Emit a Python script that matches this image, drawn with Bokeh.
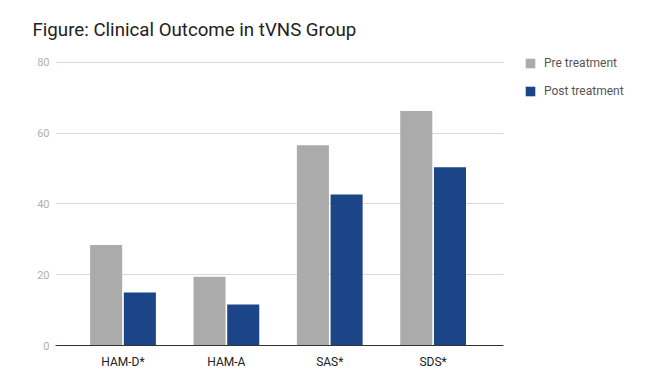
from bokeh.plotting import figure
from bokeh.models import (ColumnDataSource, Range1d, FixedTicker, Legend, LegendItem, Title,
                          BoxAnnotation)
from bokeh.transform import dodge
from bokeh.embed import file_html
from bokeh.resources import INLINE

categories = ["HAM-D*", "HAM-A", "SAS*", "SDS*"]
pre_treatment = [28.4, 19.4, 56.6, 66.3]
post_treatment = [15.0, 11.6, 42.7, 50.4]
y_ticks = [0, 20, 40, 60, 80]

X_LO, X_HI = -0.653, 3.68   # plotted category area

src = ColumnDataSource(dict(x=list(range(len(categories))), pre=pre_treatment, post=post_treatment))

p = figure(width=648, height=377, output_backend="svg", toolbar_location=None,
           x_range=Range1d(X_LO, 5.006), y_range=Range1d(0, 83.39),
           min_border_left=55, min_border_right=8, min_border_top=50, min_border_bottom=32)
p.title = None
t = Title(text="Figure: Clinical Outcome in tVNS Group", text_font="Roboto",
          text_font_size="18.7px", text_font_style="normal", text_color="#222222",
          align="left", offset=-23, standoff=20)
p.add_layout(t, "above")

r1 = p.vbar(x=dodge("x", -0.163, range=p.x_range), top="pre", width=0.31, source=src,
            fill_color="#ababab", line_color=None)
r2 = p.vbar(x=dodge("x", 0.163, range=p.x_range), top="post", width=0.31, source=src,
            fill_color="#1c4587", line_color=None)

p.outline_line_color = None
p.background_fill_color = "white"
p.border_fill_color = "white"

p.xgrid.grid_line_color = None
p.ygrid.grid_line_color = "#d9d9d9"
p.ygrid.grid_line_width = 1
p.yaxis.ticker = FixedTicker(ticks=y_ticks)
p.yaxis.axis_line_color = None
p.yaxis.major_tick_line_color = None
p.yaxis.major_tick_out = 0
p.yaxis.major_tick_in = 0
p.yaxis.minor_tick_line_color = None
p.yaxis.major_label_text_color = "#b0b0b0"
p.yaxis.major_label_text_font = "Roboto"
p.yaxis.major_label_text_font_size = "11px"
p.yaxis.major_label_standoff = 6

p.xaxis.ticker = FixedTicker(ticks=list(range(len(categories))))
p.xaxis.major_label_overrides = {i: c for i, c in enumerate(categories)}
p.xaxis.bounds = (X_LO, X_HI)
p.xaxis.axis_line_color = "#333333"
p.xaxis.axis_line_width = 1
p.xaxis.major_tick_line_color = None
p.xaxis.major_tick_out = 0
p.xaxis.major_tick_in = 0
p.xaxis.minor_tick_line_color = None
p.xaxis.major_label_text_color = "#222222"
p.xaxis.major_label_text_font = "Roboto"
p.xaxis.major_label_text_font_size = "12px"
p.xaxis.major_label_standoff = 9

# hide gridlines to the right of the category area (legend zone)
p.add_layout(BoxAnnotation(left=X_HI, fill_color="white", fill_alpha=1, line_color=None))

legend = Legend(items=[LegendItem(label="Pre treatment", renderers=[r1]),
                       LegendItem(label="Post treatment", renderers=[r2])],
                location=(469, 247), glyph_width=12, glyph_height=12, label_height=12,
                label_standoff=8, spacing=14, padding=0, margin=0,
                label_text_font="Roboto", label_text_font_size="12px",
                label_text_color="#555555", border_line_color=None,
                background_fill_alpha=0)
p.add_layout(legend, "center")

open("out.html", "w").write(file_html(p, INLINE))
